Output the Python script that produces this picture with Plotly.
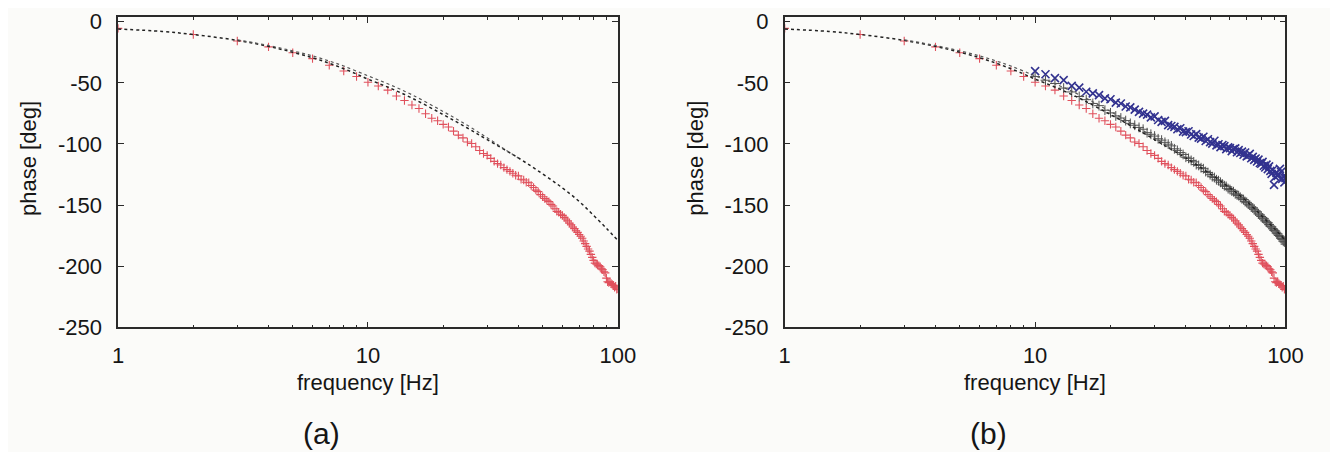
import plotly.graph_objects as go

# ---------------- data ----------------
# measured phase (red +), integer frequencies 1..100 Hz
freq_red = list(range(1, 101))
phase_red = [
    -5.5, -10.5, -15.8, -20.6, -25.4, -30.2, -35.6, -40.3, -44.8, -49.5,
    -52.6, -56.0, -60.8, -64.5, -68.2, -71.0, -75.3, -79.0, -81.1, -84.0,
    -86.2, -89.5, -92.8, -95.1, -98.4, -99.6, -102.3, -105.4, -107.8, -109.4,
    -111.8, -114.3, -116.1, -117.2, -119.4, -121.0, -122.5, -124.0, -125.6, -126.3,
    -128.9, -129.5, -131.4, -131.8, -134.0, -135.6, -137.8, -139.0, -141.5, -143.2,
    -144.6, -146.0, -147.2, -149.5, -150.8, -153.0, -155.2, -155.9, -157.6, -158.5,
    -160.1, -161.4, -163.0, -164.8, -166.2, -168.0, -169.3, -171.0, -172.4, -174.1,
    -175.5, -177.2, -179.4, -181.6, -183.8, -186.0, -187.7, -190.4, -192.8, -195.3,
    -197.5, -198.2, -199.0, -199.6, -200.5, -202.1, -203.0, -204.6, -205.5, -209.8,
    -212.7, -213.5, -212.9, -214.1, -215.0, -215.8, -217.2, -216.4, -219.0, -218.5,
]

# second measurement (gray +) and third measurement (blue x), 10..100 Hz
freq_hi = list(range(10, 101))
phase_gray = [
    -44.8, -47.9, -50.6, -54.3, -57.5, -61.2, -63.8, -66.9, -68.7, -72.4,
    -74.6, -77.1, -78.8, -80.9, -83.2, -84.7, -86.5, -88.0, -90.8, -92.1,
    -93.6, -95.8, -96.9, -98.7, -100.2, -101.6, -104.0, -105.3, -107.1, -108.6,
    -110.9, -111.8, -113.5, -114.7, -116.9, -117.6, -119.5, -120.3, -122.6, -123.4,
    -125.2, -126.8, -127.5, -129.3, -130.1, -131.4, -132.9, -134.2, -134.8, -136.6,
    -137.3, -138.5, -139.1, -140.8, -141.6, -142.3, -143.7, -144.9, -145.5, -147.2,
    -147.8, -149.3, -150.1, -151.6, -152.4, -153.5, -154.9, -155.6, -157.3, -158.2,
    -159.4, -160.6, -161.3, -162.9, -163.8, -164.5, -165.9, -167.3, -168.0, -169.4,
    -170.6, -171.2, -172.8, -173.5, -174.9, -175.6, -177.3, -178.1, -179.6, -180.2,
    -182.0,
]
phase_blue = [
    -40.5, -43.0, -46.2, -47.8, -52.5, -54.0, -57.3, -58.6, -60.1, -62.8,
    -63.5, -66.2, -66.9, -69.4, -70.1, -72.0, -73.8, -75.2, -76.0, -78.3,
    -77.5, -80.4, -82.0, -81.2, -84.6, -85.3, -86.1, -88.0, -87.2, -89.9,
    -90.4, -89.6, -92.3, -93.5, -92.0, -94.8, -95.7, -94.1, -97.6, -96.2,
    -98.5, -99.8, -97.4, -101.2, -100.3, -102.6, -100.9, -101.8, -104.3, -102.7,
    -103.5, -105.9, -104.2, -103.6, -106.8, -105.1, -107.4, -106.3, -108.9, -107.0,
    -110.2, -109.5, -108.1, -111.7, -110.6, -113.0, -111.9, -114.4, -112.8, -115.6,
    -116.2, -114.7, -117.9, -119.3, -117.0, -120.6, -118.4, -122.1, -124.5, -121.3,
    -133.5, -127.0, -123.8, -126.2, -125.0, -120.4, -122.9, -128.6, -126.7, -131.5,
    -128.0,
]

# model curves (black dotted)
freq_model = [1, 1.5, 2, 3, 4, 5, 6, 7, 8, 9, 10, 12, 15, 20, 25, 30, 40, 50, 60, 70, 80, 90, 100]
phase_model = [-6.0, -8.0, -10.5, -15.3, -20.2, -25.0, -29.5, -34.0, -38.5, -42.8, -47.0,
               -53.5, -62.5, -76.0, -87.0, -96.5, -111.5, -124.5, -136.0, -147.0, -158.5, -169.0, -179.0]
freq_model2 = [3, 4, 5, 6, 7, 8, 10, 12, 15, 20, 25, 30, 35, 40]
phase_model2 = [-14.8, -19.5, -23.9, -28.0, -32.2, -36.3, -44.3, -50.8, -59.8, -73.5, -84.8, -95.0, -104.0, -111.5]

x_ticks = [1, 10, 100]
x_ticktext = ["1", "10", "100"]
x_minor = [2, 3, 4, 5, 6, 7, 8, 9, 20, 30, 40, 50, 60, 70, 80, 90]
y_ticks = [0, -50, -100, -150, -200, -250]
y_ticktext = ["0", "-50", "-100", "-150", "-200", "-250"]
panel_labels = ["(a)", "(b)"]

# ---------------- styling ----------------
FONT = "Liberation Sans, Arial, Helvetica, sans-serif"
RED = "#e0505c"
GRAY = "#505050"
BLUE = "#32328f"
AXC = "#2a2a2a"
TXT = "#151515"

# page body keeps an 8 px margin: figure area is window minus that
OFF = 8
W, H = 1322, 444
fig = go.Figure()


def add_model(xa, ya):
    fig.add_trace(go.Scatter(x=freq_model, y=phase_model, mode="lines", xaxis=xa, yaxis=ya,
                             line=dict(color="#222222", width=1.5, dash="dot", shape="spline"),
                             showlegend=False, hoverinfo="skip"))
    fig.add_trace(go.Scatter(x=freq_model2, y=phase_model2, mode="lines", xaxis=xa, yaxis=ya,
                             line=dict(color="#555555", width=1.2, dash="dot", shape="spline"),
                             showlegend=False, hoverinfo="skip"))


def add_red(xa, ya):
    fig.add_trace(go.Scatter(x=freq_red, y=phase_red, mode="markers", xaxis=xa, yaxis=ya,
                             marker=dict(symbol="cross-thin", size=6, line=dict(color=RED, width=1.1)),
                             showlegend=False))


# left panel
add_red("x", "y")
add_model("x", "y")

# right panel
fig.add_trace(go.Scatter(x=freq_hi, y=phase_blue, mode="markers", xaxis="x2", yaxis="y2",
                         marker=dict(symbol="x-thin", size=8, line=dict(color=BLUE, width=1.6)),
                         showlegend=False))
add_red("x2", "y2")
fig.add_trace(go.Scatter(x=freq_hi, y=phase_gray, mode="markers", xaxis="x2", yaxis="y2",
                         marker=dict(symbol="cross-thin", size=7, line=dict(color=GRAY, width=1.0)),
                         showlegend=False))
add_model("x2", "y2")


# domains from screen-pixel positions
def px_x(p):
    return (p - OFF) / W


def px_y(p):
    return 1 - (p - OFF) / H


xdom1 = [px_x(114), px_x(623)]
xdom2 = [px_x(793), px_x(1303)]
ydom = [px_y(335), px_y(10)]

xaxis_common = dict(
    type="log", range=[0, 2], tickvals=x_ticks, ticktext=x_ticktext,
    ticks="inside", ticklen=6, tickwidth=1, tickcolor=AXC,
    minor=dict(tickvals=x_minor, ticks="inside", ticklen=3, tickcolor=AXC, tickwidth=1),
    showline=True, linecolor=AXC, linewidth=1.5, mirror="allticks",
    showgrid=False, zeroline=False,
    tickfont=dict(family=FONT, size=22, color=TXT),
    ticklabelstandoff=8, ticklabeloverflow="allow",
)
yaxis_common = dict(
    range=[-250, 3.9], tickvals=y_ticks, ticktext=y_ticktext,
    ticks="inside", ticklen=6, tickwidth=1, tickcolor=AXC,
    showline=True, linecolor=AXC, linewidth=1.5, mirror="allticks",
    showgrid=False, zeroline=False,
    tickfont=dict(family=FONT, size=22, color=TXT),
    ticklabelstandoff=10, ticklabeloverflow="allow",
)

fig.update_layout(
    width=W, height=H, autosize=False,
    margin=dict(l=0, r=0, t=0, b=0, pad=0),
    paper_bgcolor="#fbfbf9", plot_bgcolor="#fbfbf9",
    xaxis=dict(domain=xdom1, anchor="y", **xaxis_common),
    yaxis=dict(domain=ydom, anchor="x", **yaxis_common),
    xaxis2=dict(domain=xdom2, anchor="y2", **xaxis_common),
    yaxis2=dict(domain=ydom, anchor="x2", **yaxis_common),
    showlegend=False,
)

ann_font = dict(family=FONT, size=22, color=TXT)
for cx, ylab_x, lab_x, lab in [(368.5, 22, 321, panel_labels[0]), (1048, 702, 1001, panel_labels[1])]:
    fig.add_annotation(x=px_x(cx), y=px_y(393), xref="paper", yref="paper",
                       text="frequency [Hz]", showarrow=False, font=ann_font,
                       xanchor="center", yanchor="middle")
    fig.add_annotation(x=px_x(ylab_x), y=px_y(158), xref="paper", yref="paper",
                       text="phase [deg]", showarrow=False, font=ann_font, textangle=-90,
                       xanchor="center", yanchor="middle")
    fig.add_annotation(x=px_x(lab_x), y=px_y(446), xref="paper", yref="paper",
                       text=lab, showarrow=False, font=dict(family=FONT, size=30, color=TXT),
                       xanchor="center", yanchor="middle")

fig.write_html("out.html")
